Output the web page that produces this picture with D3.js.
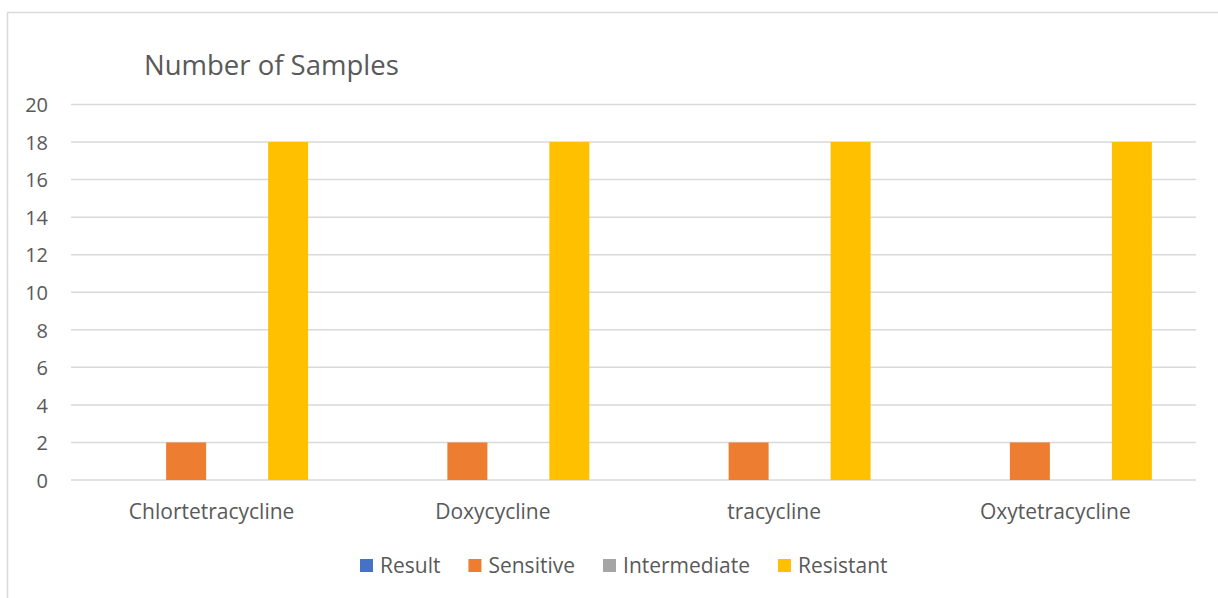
<!DOCTYPE html>
<html><head><meta charset="utf-8">
<script src="https://cdn.jsdelivr.net/npm/d3@7"></script>
<style>body{margin:0;background:#fff;font-family:"Open Sans",sans-serif;}</style>
</head><body><svg id="c" width="1218" height="598"></svg>
<script>
const categories = ["Chlortetracycline","Doxycycline","tracycline","Oxytetracycline"];
const seriesNames = ["Result","Sensitive","Intermediate","Resistant"];
const resultVals = [0,0,0,0];
const sensitiveVals = [2,2,2,2];
const intermediateVals = [0,0,0,0];
const resistantVals = [18,18,18,18];
const yTicks = [0,2,4,6,8,10,12,14,16,18,20];
const colors = ["#4472C4","#ED7D31","#A5A5A5","#FFC000"];
const seriesVals = [resultVals, sensitiveVals, intermediateVals, resistantVals];

(function(){
const FONT = "Open Sans";
const svg = d3.select("#c");
const pL=71, pR=1196, pT=104.5, pB=480;
svg.append("rect").attr("x",7.5).attr("y",12.5).attr("width",1240).attr("height",620)
  .attr("fill","#fff").attr("stroke","#D9D9D9").attr("stroke-width",1.5);

const y = d3.scaleLinear().domain([0,20]).range([pB,pT]);
const x0 = d3.scaleBand().domain(categories).range([pL,pR]).paddingInner(0.3138).paddingOuter(0.1569);
const x1 = d3.scaleBand().domain(seriesNames).range([0,x0.bandwidth()]).paddingInner(0.2157).paddingOuter(0);

const grid = svg.append("g");
yTicks.forEach(t=>{
  grid.append("line").attr("x1",pL).attr("x2",pR).attr("y1",y(t)).attr("y2",y(t))
   .attr("stroke","#D9D9D9").attr("stroke-width",1.5);
});
const yAxis = d3.axisLeft(y).tickValues(yTicks).tickSize(0).tickPadding(0);
const ya = svg.append("g").attr("transform",`translate(${48},0)`).call(yAxis);
ya.select(".domain").remove();
ya.selectAll("text").attr("font-size",20).attr("fill","#595959").attr("font-family",FONT).attr("dy","0.36em");

const groups = svg.append("g").selectAll("g").data(categories).join("g")
  .attr("transform",d=>`translate(${x0(d)},0)`);
groups.selectAll("rect").data((d,i)=>seriesNames.map((s,j)=>({s,v:seriesVals[j][i],j})))
  .join("rect").attr("x",d=>x1(d.s)).attr("width",x1.bandwidth())
  .attr("y",d=>y(d.v)).attr("height",d=>y(0)-y(d.v)).attr("fill",d=>colors[d.j]);

const xAxis = d3.axisBottom(x0).tickSize(0).tickPadding(0);
const xa = svg.append("g").attr("transform",`translate(0,${pB})`).call(xAxis);
xa.select(".domain").remove();
xa.selectAll("text").attr("font-size",21).attr("fill","#595959").attr("font-family",FONT).attr("dy",0).attr("y",39);

svg.append("text").attr("x",144).attr("y",75).attr("font-size",27.5).attr("fill","#595959")
  .attr("font-family",FONT).text("Number of Samples");

const leg = svg.append("g");
let lx = 360;
seriesNames.forEach((s,i)=>{
  leg.append("rect").attr("x",lx).attr("y",559).attr("width",13).attr("height",13).attr("fill",colors[i]);
  const t = leg.append("text").attr("x",lx+20).attr("y",573).attr("font-size",21).attr("fill","#595959")
    .attr("font-family",FONT).text(s);
  lx += 20 + t.node().getComputedTextLength() + 28;
});
})();
</script></body></html>
